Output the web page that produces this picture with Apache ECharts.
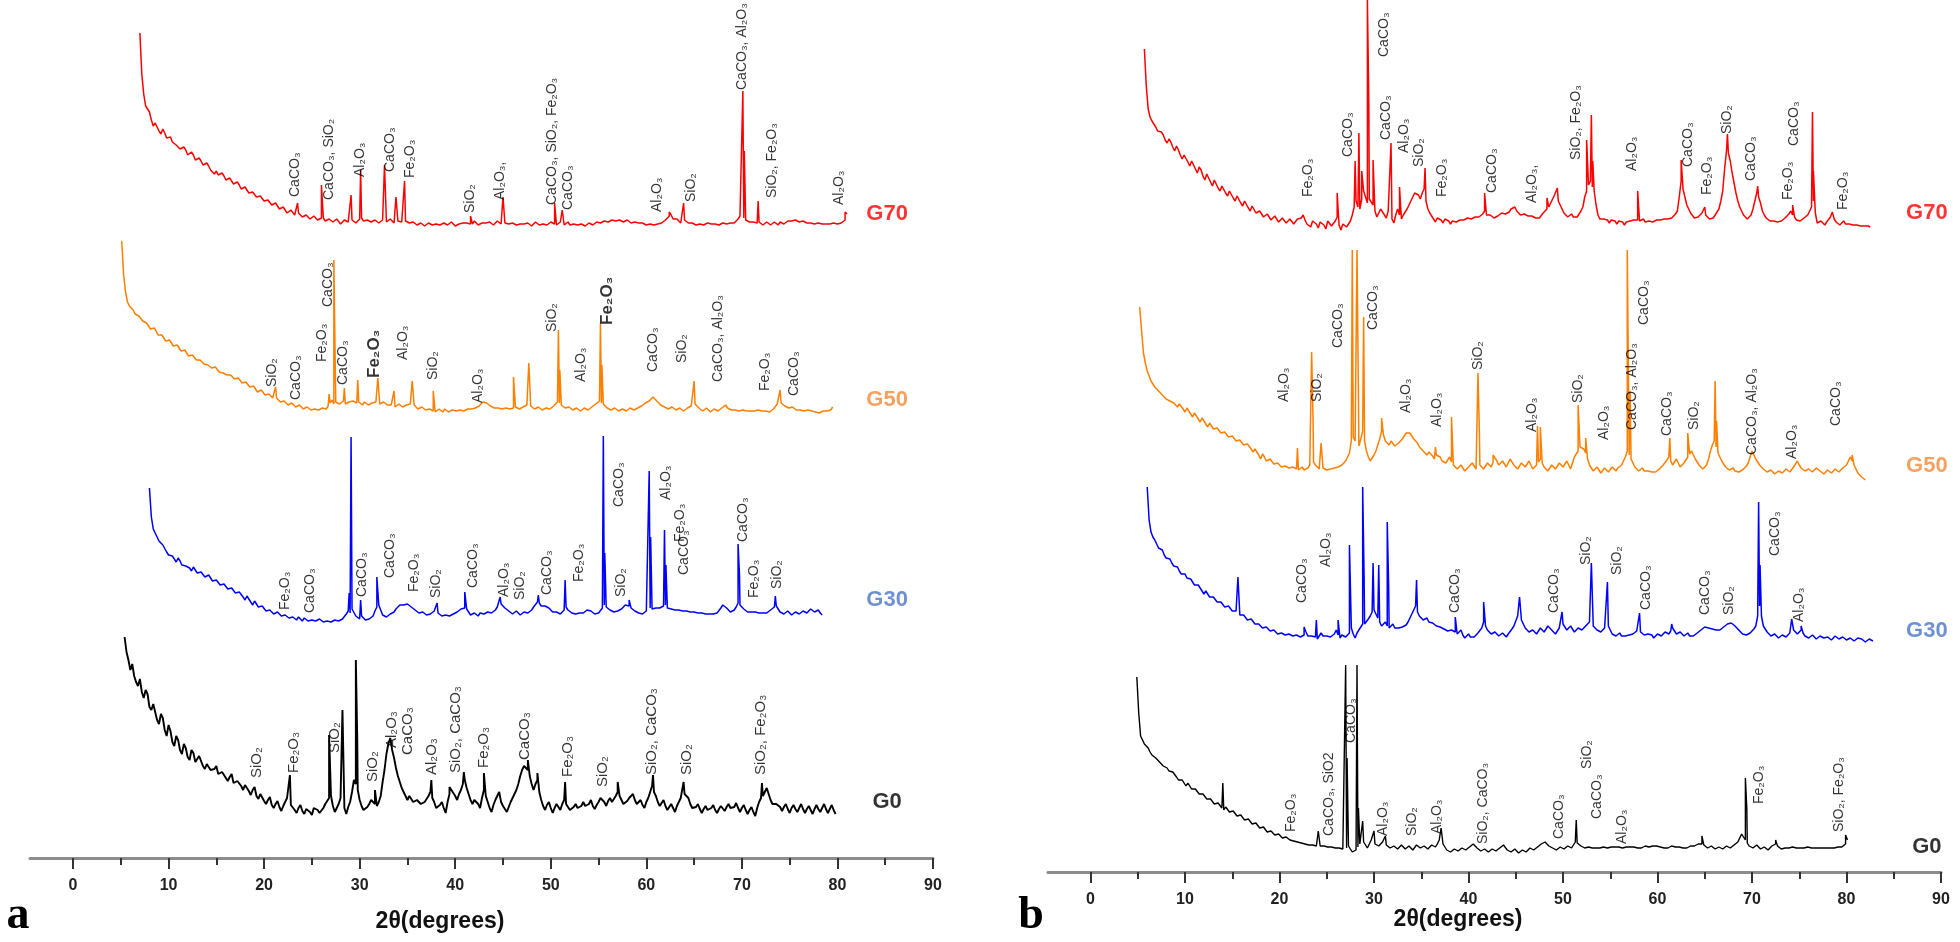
<!DOCTYPE html>
<html>
<head>
<meta charset="utf-8">
<script src="https://cdn.jsdelivr.net/npm/echarts@6/dist/echarts.min.js"></script>
<style>
html,body{margin:0;padding:0;background:#fff;}
#chart{width:1960px;height:942px;}
</style>
</head>
<body>
<div id="chart"></div>
<script>
// ---------------- DATA ----------------
const STEP = 0.4;              // sampling step of the digitised patterns (deg 2θ); "Mid" arrays sit half a step later
const TICKS_MAJOR = [0,10,20,30,40,50,60,70,80,90];
const TICKS_MINOR = [5,15,25,35,45,55,65,75,85];
const sampleNames = ['G70','G50','G30','G0'];

// ----- panel a -----
const a70Start = 7.0;
const a70Vals = [191,130,116,104,101,93,95,86,87,80, 81,73,74,68,69,62,63,57,58,52, 53,47,48,42,44,38,39,33,35,29,
 30,25,27,21,22,17,19,13,15,10, 12,8,10,6,8,4,7,3,6,2, 5,1,4,2,5,1,4,3,6,2, 5,1,4,2,5,1,4,2,5,1,
 4,-1,3,-2,2,-1,2,-3,1,-2, 2,-2,1,-3,2,-1,3,0,2,-2, 2,-1,3,0,2,-1,3,-1,2,-2, 1,-2,2,-1,1,-2,2,0,3,-1,
 2,-1,2,-2,1,-2,1,-1,2,-1, 3,0,4,1,5,2,5,2,4,0, 3,-1,2,-2,1,-2,2,0,6,9, 3,4,2,3,-1,2,-2,1,-2,2,
 -1,1,-2,2,-1,2,3,8,6,3, 1,3,2,-1,2,-1,2,-1,3,1, 4,2,5,1,3,0,2,-1,2,-2, 1,-1,2,-1,1,10];
const a70Mid = [150,118,112,98,100,90,91,84,82,79, 75,77,69,72,64,66,59,61,54,50, 49,51,44,46,40,42,35,37,31,32,
 27,28,23,24,19,21,15,17,11,14, 9,11,7,9,5,8,4,6,3,5, 2,5,0,4,2,4,1,5,3,4, 2,4,1,4,2,5,1,3,2,3,
 1,2,-1,1,-2,1,-1,0,-1,1, -1,2,-2,0,1,1,0,3,-1,1, 1,2,-1,3,0,1,0,1,-1,0, 0,1,-2,2,-1,0,-1,2,0,1,
 0,1,-1,0,-1,0,-2,1,-1,2, 1,3,2,4,3,4,2,4,1,2, 1,1,-1,0,-1,0,1,4,8,5, 5,1,4,1,1,-1,0,-1,1,0,
 0,-1,1,0,1,1,5,10,4,2, 2,1,0,1,0,1,0,2,0,3, 3,4,2,3,1,1,0,1,0,0, 0,1,0,1,4];
const a70Peaks = [[23.5,21],[26.0,39],[29.1,29],[30.1,54],[32.6,59],[33.8,27],[34.7,43],[41.6,8],[45.0,27],
 [50.4,21],[51.2,14],[62.4,12],[63.9,21],[70.1,133],[70.25,73],[71.7,23],[80.8,12]];
const a70Labels = [[23.2,27,'CaCO₃'],[26.8,24,'CaCO₃, SiO₂'],[30.1,47,'Al₂O₃'],[33.2,52,'CaCO₃'],[35.3,46,'Fe₂O₃'],
 [41.6,11,'SiO₂'],[44.7,24,'Al₂O₃,'],[50.1,19,'CaCO₃, SiO₂, Fe₂O₃'],[51.8,14,'CaCO₃'],[61.1,12,'Al₂O₃'],
 [64.7,22,'SiO₂'],[70.0,134,'CaCO₃, Al₂O₃'],[73.2,26,'SiO₂, Fe₂O₃'],[80.2,19,'Al₂O₃']];

const a50Start = 5.1;
const a50Vals = [169,118,104,100,95,92,88,84,81,79, 73,74,67,68,62,63,57,58,52,54, 48,49,44,46,40,41,36,38,33,34,
 29,31,25,27,21,22,17,19,13,14, 10,11,6,8,4,6,2,4,0,3, -1,2,-1,3,4,10,8,6,9,5, 7,10,8,5,7,4,6,9,5,7,
 4,6,3,5,2,4,8,3,0,2, -1,2,-2,1,-2,0,-3,1,-2,1, -1,2,0,3,6,9,5,3,1,3, 0,2,0,3,1,3,5,4,1,3,
 0,2,1,4,8,5,2,3,0,2, -1,2,0,3,6,9,6,2,0,2, -1,1,-1,2,0,2,4,7,9,13, 9,5,3,1,3,0,2,-1,2,4,
 6,2,-1,2,-2,1,-1,2,5,1, -1,2,-2,1,-3,0,-2,1,-3,0, -1,3,8,6,3,1,2,-1,1,-2, 0,-3,-1,-2,0,-2,3];
const a50Mid = [135,108,103,96,94,89,87,81,82,75, 75,69,70,64,65,59,60,54,55,50, 50,46,45,42,43,38,37,35,35,31,
 32,27,28,23,24,18,20,15,16,12, 12,8,9,5,7,3,5,1,3,0, 1,0,2,1,7,6,9,7,6,8, 9,7,6,8,5,7,8,6,8,5,
 5,3,6,3,5,6,5,1,3,0, 1,-1,0,-1,1,-2,0,-1,0,-1, 1,1,2,4,8,7,4,2,2,1, 2,1,2,2,2,4,6,2,2,1,
 1,0,3,6,7,3,4,1,1,0, 1,0,2,4,8,7,4,1,1,0, 0,0,1,0,1,3,6,8,11,11, 7,4,2,2,1,1,0,1,3,5,
 4,0,1,0,0,-1,1,3,2,0, 0,-1,0,-1,-1,-1,0,-1,-1,-2, 1,6,7,4,2,3,0,0,-1,0, -1,-2,-3,-1,-1,0];
const a50Peaks = [[21.2,23],[23.1,8],[26.8,16],[27.3,150],[27.45,40],[28.4,22],[29.8,30],[31.9,32],[33.6,19],
 [35.5,29],[37.7,19],[46.1,33],[47.7,47],[50.8,80],[50.95,40],[55.2,87],[55.35,45],[65.0,29],[74.0,20]];
const a50Labels = [[20.8,23,'SiO₂'],[23.3,10,'CaCO₃'],[26.1,48,'Fe₂O₃'],[26.7,103,'CaCO₃'],[28.3,25,'CaCO₃'],
 [34.6,50,'Al₂O₃'],[37.7,30,'SiO₂'],[42.4,7,'Al₂O₃'],[50.1,78,'SiO₂'],[53.2,28,'Al₂O₃'],[60.7,38,'CaCO₃'],
 [63.7,47,'SiO₂'],[67.5,28,'CaCO₃, Al₂O₃'],[72.4,19,'Fe₂O₃'],[75.5,14,'CaCO₃']];
const a50LabelsBold = [[31.5,32,'Fe₂O₃'],[55.9,85,'Fe₂O₃']];

const a30Start = 8.0;
const a30Vals = [125,84,76,70,66,58,57,51,52,46, 48,42,44,38,40,34,36,30,31,26, 27,22,23,18,19,13,14,8,9,4,
 5,0,2,-3,-1,-5,-3,-7,-5,-4, -8,-6,-9,-6,-9,-7,-10,-7,-9,-6, -8,-4,2,4,-3,-6,-2,-9,-5,2, 8,-2,-4,-1,1,6,10,7,8,4,
 2,-1,1,-3,0,3,-2,-4,-1,-3, 0,2,6,4,-2,0,-3,1,-1,2, 0,6,9,5,2,-1,2,-2,1,0, 3,8,10,5,8,3,0,2,0,6,
 1,-2,1,-2,2,4,0,-2,2,8, 4,2,0,3,6,9,5,2,0,-1, 2,5,3,4,6,8,3,5,2,4, 1,3,0,2,-1,1,-2,0,-2,2,
 8,5,1,3,10,6,2,0,3,-1, 2,-1,1,4,7,1,-1,2,-2,1, -1,2,0,4,1,3,-2];
const a30Mid = [96,80,72,68,61,59,54,55,48,47, 45,46,40,41,36,38,32,33,28,29, 24,25,20,21,16,17,11,12,6,7,
 2,3,-1,1,-3,-2,-5,-4,-7,-6, -5,-8,-7,-8,-6,-9,-8,-9,-7,-8, -6,-1,0,3,-5,-3,-7,-6,-3,6, 3,-4,-2,0,4,8,8,9,6,3,
 0,1,-2,-1,2,0,-3,-2,-3,-1, 1,4,5,1,-1,-2,0,-1,1,0, 3,8,7,3,0,1,0,-1,-1,2, 6,11,7,7,5,1,1,-1,3,3,
 0,-1,0,0,3,2,-1,0,5,6, 3,1,2,4,8,7,3,1,1,0, 4,4,5,5,7,5,4,3,3,2, 2,1,1,0,0,-1,-1,-1,0,5,
 7,3,2,6,8,4,1,1,1,0, 0,0,3,6,4,0,1,0,0,0, 1,1,2,2,2,0];
const a30Peaks = [[28.9,20],[29.1,176],[30.1,13],[31.8,36],[38.1,10],[41.0,21],[44.7,16],[48.7,18],[51.5,33],
 [55.5,177],[55.65,60],[58.2,13],[60.3,142],[60.45,76],[61.9,83],[62.05,48],[69.6,69],[69.75,38],[73.5,17]];
const a30Labels = [[22.2,3,'Fe₂O₃'],[24.8,0,'CaCO₃'],[30.3,16,'CaCO₃'],[33.2,35,'CaCO₃'],[35.7,21,'Fe₂O₃'],
 [38.0,15,'SiO₂'],[41.9,25,'CaCO₃'],[45.1,16,'Al₂O₃'],[46.8,13,'SiO₂'],[49.6,18,'CaCO₃'],[53.0,31,'Fe₂O₃'],
 [57.2,106,'CaCO₃'],[57.4,16,'SiO₂'],[62.1,113,'Al₂O₃'],[63.5,71,'Fe₂O₃'],[64.0,38,'CaCO₃'],[70.1,71,'CaCO₃'],
 [71.3,15,'Fe₂O₃'],[73.7,24,'SiO₂']];

const a0Start = 5.4;
const a0Vals = [173,150,146,128,131,112,116,100,104,86, 92,74,79,64,70,56,62,50,57,46, 52,41,48,38,44,34,40,29,36,25,
 31,20,27,15,23,11,18,6,13,2, 9,-1,6,10,3,-3,5,-4,3,-5, 4,-3,2,8,14,-2,6,10,-4,8, 30,20,4,-2,6,12,4,14,40,66,
 60,42,28,18,10,16,6,12,4,10, 18,8,0,8,-3,16,22,10,20,30, 16,6,12,2,20,8,-2,10,18,4, -2,8,14,26,40,46,34,20,30,10,
 0,8,-3,6,0,10,4,-2,6,0, 8,2,10,1,8,14,4,12,6,18, 10,4,12,16,6,10,2,12,24,14, 4,10,0,6,-2,8,14,18,6,0,
 6,-3,4,-2,5,-3,4,-1,6,0, 7,-2,5,-4,3,-6,8,14,22,10, 4,8,-1,6,-3,5,-2,6,-3,4, -4,5,-2,6,-3,5,-4];
const a0Mid = [158,140,134,124,118,120,103,106,90,96, 80,85,68,74,60,66,53,60,48,54, 44,46,40,41,36,38,32,33,27,29,
 24,25,19,20,14,16,9,10,5,6, 3,4,12,5,0,2,-1,1,-2,2, 0,-1,6,12,4,2,12,2,3,18, 26,10,0,3,10,6,8,28,56,72,
 52,34,22,14,14,8,10,6,8,14, 12,2,5,2,8,20,14,16,26,22, 10,10,6,12,14,2,5,14,8,1, 3,12,20,34,44,40,26,26,18,4,
 5,2,2,3,6,6,0,3,2,4, 4,6,4,5,12,8,9,8,14,14, 6,9,14,10,8,5,8,18,18,8, 7,4,3,2,4,12,16,12,2,3,
 1,1,0,2,0,1,2,3,2,3, 2,2,0,0,-2,2,12,18,16,6, 6,3,3,1,2,1,2,1,1,0, 1,1,2,1,1,0];
const a0Peaks = [[22.7,35],[26.8,75],[28.2,100],[29.6,150],[29.75,70],[31.6,20],[37.5,30],[39.4,23],[40.9,38],
 [43.0,37],[47.6,50],[48.6,37],[51.5,28],[57.0,28],[60.7,35],[63.9,28],[72.1,27]];
const a0Labels = [[19.2,32,'SiO₂'],[23.1,37,'Fe₂O₃'],[27.4,57,'SiO₂'],[31.4,28,'SiO₂'],[33.4,62,'Al₂O₃'],
 [35.0,55,'CaCO₃'],[37.6,35,'Al₂O₃'],[40.1,37,'SiO₂, CaCO₃'],[43.0,42,'Fe₂O₃'],[47.3,50,'CaCO₃'],
 [51.8,33,'Fe₂O₃'],[55.4,23,'SiO₂'],[60.6,35,'SiO₂, CaCO₃'],[64.2,35,'SiO₂'],[72.0,35,'SiO₂, Fe₂O₃']];

// ----- panel b -----
const b70Start = 5.7;
const b70Vals = [172,112,100,94,88,86,78,79,70,71, 62,64,55,58,48,51,41,45,35,39, 30,33,25,28,20,23,15,18,10,13,
 6,9,2,6,-1,4,-3,2,-4,1, -5,0,6,-3,-6,2,-7,0,-8,1, -6,4,-9,-2,-8,6,20,12,30,18, 24,10,6,14,3,8,-2,12,2,8,
 14,24,30,22,32,12,6,-1,5,-2, 4,-3,2,-2,3,0,5,1,6,3, 10,4,7,2,6,10,5,12,14,8, 4,9,3,6,1,5,10,14,22,28,
 16,8,4,7,2,5,14,30,40,30, 6,0,4,-2,3,-3,2,-4,1,-2, 3,0,2,-3,1,-2,3,0,4,1, 5,10,40,24,12,6,2,5,10,4,
 1,6,12,30,70,60,38,20,10,4, 1,12,28,18,6,2,-2,1,-3,2, 4,10,4,-1,2,4,8,20,-2,0, -4,1,6,-1,-4,0,-5,-2,-6,-3,
 -7,-4,-6];
const b70Mid = [135,104,97,90,89,81,82,74,75,66, 66,59,60,52,54,45,47,39,41,33, 35,28,30,23,25,18,20,13,15,8,
 10,4,7,1,5,-1,3,-2,2,-3, 2,3,1,-4,0,-3,-1,-4,0,-5, 0,-4,-3,-6,0,14,14,22,24,22, 16,4,12,6,10,2,6,6,6,12,
 20,28,26,28,20,8,2,3,1,2, 0,0,-1,1,1,3,2,4,4,7, 6,6,3,5,8,7,9,13,10,6, 7,5,5,3,3,8,12,18,26,20,
 12,6,6,4,4,10,24,36,34,16, 2,2,1,1,0,0,-1,-1,0,1, 1,1,-1,0,-1,1,1,2,2,3, 7,24,32,16,8,3,4,8,6,2,
 3,9,20,52,68,48,28,14,6,2, 6,20,24,10,3,0,0,-1,0,3, 7,6,1,0,3,6,14,8,-1,-2, -1,4,2,-3,-2,-3,-3,-4,-4,-5,
 -5,-5];
const b70Peaks = [[26.1,28],[28.0,60],[28.4,88],[28.7,50],[29.3,221],[29.45,120],[29.9,61],[31.8,78],[32.7,34],
 [35.4,53],[41.7,28],[48.3,23],[49.4,33],[52.5,81],[53.0,106],[53.15,60],[57.9,30],[62.5,61],[62.65,40],[65.0,14],
 [67.4,87],[70.6,35],[74.3,16],[76.4,109],[76.5,50],[78.5,9]];
const b70Labels = [[23.0,24,'Fe₂O₃'],[27.3,64,'CaCO₃'],[31.1,164,'CaCO₃'],[31.3,81,'CaCO₃'],[33.2,68,'Al₂O₃'],
 [34.8,54,'SiO₂'],[37.2,24,'Fe₂O₃'],[42.5,28,'CaCO₃'],[46.7,18,'Al₂O₃,'],[51.4,61,'SiO₂, Fe₂O₃'],[57.3,50,'Al₂O₃'],
 [63.2,54,'CaCO₃'],[65.3,26,'Fe₂O₃'],[67.4,87,'SiO₂'],[69.9,40,'CaCO₃'],[73.8,21,'Fe₂O₃'],[74.5,75,'CaCO₃'],
 [79.6,11,'Fe₂O₃']];

const b50Start = 5.2;
const b50Vals = [164,118,100,90,84,80,76,72,70,68, 64,66,59,60,54,56,49,50,44,46, 40,41,36,37,32,33,28,29,24,25,
 19,21,12,14,8,10,5,7,3,6, 2,5,1,4,0,6,9,4,1,3, 0,4,2,5,8,12,30,30,25,40, 20,10,16,22,40,30,26,28,24,30,
 34,40,36,30,24,20,16,20,12,18, 10,8,14,6,2,6,0,4,8,2, 6,2,8,4,14,6,10,4,12,6, 2,8,4,10,2,6,12,4,0,6,
 2,8,4,10,2,14,20,26,18,6, 0,4,-2,3,-1,4,0,5,8,20, 12,4,0,3,-2,2,-3,1,4,8, 14,6,12,4,8,14,20,12,6,2,
 6,20,30,18,10,4,1,3,-2,0, 3,8,20,12,6,2,-1,1,-3,0, -2,2,-1,4,10,3,0,2,-1,3, 0,-3,1,-2,2,-1,3,6,14,6,
 -2,-6,-9];
const b50Mid = [141,108,95,87,82,78,74,71,69,66, 67,62,63,57,58,52,53,47,48,42, 43,38,39,34,35,30,31,26,27,22,
 22,16,17,10,12,7,8,4,5,3, 4,2,3,1,3,8,6,2,3,1, 2,3,4,6,10,18,34,28,32,30, 14,12,20,32,36,28,30,25,28,32,
 38,38,32,28,22,18,19,15,16,14, 9,11,9,4,4,3,2,6,5,4, 4,5,6,9,10,8,7,8,9,4, 5,6,7,6,4,9,8,2,3,4,
 5,6,7,6,8,17,24,22,12,3, 2,1,0,1,1,2,3,6,14,16, 8,2,1,0,0,-1,-1,2,6,11, 10,9,8,6,11,17,16,9,4,4,
 12,26,24,14,7,2,2,0,-1,1, 5,14,16,9,4,0,0,-1,-1,-1, 0,0,1,7,6,1,1,0,1,1, -1,-1,0,0,0,1,4,10,10,2,
 -4,-7];
const b50Peaks = [[21.9,23],[23.4,119],[23.55,50],[24.4,28],[27.7,221],[28.2,221],[28.9,154],[30.8,53],[36.5,24],
 [38.2,54],[41.0,98],[41.15,40],[42.6,16],[47.3,45],[47.6,44],[51.6,66],[52.4,33],[56.8,221],[56.95,221],[57.1,80],
 [61.3,33],[63.2,38],[66.1,90],[66.25,50],[74.8,12],[80.6,16]];
const b50Labels = [[20.5,69,'Al₂O₃'],[24.0,69,'SiO₂'],[26.2,123,'CaCO₃'],[29.9,141,'CaCO₃'],[33.4,58,'Al₂O₃'],
 [36.7,44,'Al₂O₃'],[41.0,101,'SiO₂'],[46.7,39,'Al₂O₃'],[51.6,68,'SiO₂'],[54.4,31,'Al₂O₃'],[57.3,41,'CaCO₃, Al₂O₃'],
 [58.6,146,'CaCO₃'],[61.0,35,'CaCO₃'],[63.9,41,'SiO₂'],[70.0,16,'CaCO₃, Al₂O₃'],[74.3,12,'Al₂O₃'],[78.9,45,'CaCO₃']];

const b30Start = 6.0;
const b30Vals = [149,104,96,88,86,78,77,70,69,62, 62,56,55,49,49,42,42,37,37,32, 32,28,28,23,24,19,20,14,15,10,
 11,6,8,3,5,1,4,-1,3,-2, 2,-3,4,-2,2,-3,3,-2,1,-3, 6,-2,2,-3,8,-2,6,12,14,20, 26,18,10,14,8,12,6,10,8,14,
 22,30,20,16,18,12,14,8,10,6, 4,8,2,6,-2,2,-3,1,4,14, 6,2,4,0,3,-1,4,10,20,16, 8,4,6,2,8,4,10,6,2,8,
 12,6,10,4,8,6,10,14,10,6, 4,8,10,2,0,3,-2,2,-1,4, 6,2,0,4,-2,2,0,4,2,8, 2,4,0,3,-2,2,4,8,10,6,
 8,4,8,10,14,12,8,4,0,2, 4,10,30,10,4,0,2,-2,1,-1, 3,6,2,6,0,-2,1,-3,0,-2, -1,-4,0,-3,-1,-4,-2,-5,-2,-3,
 -6,-3,-5];
const b30Mid = [116,99,92,87,81,79,73,71,65,64, 58,57,51,51,45,45,39,39,34,34, 29,30,25,25,21,21,16,17,12,12,
 8,9,5,6,2,3,1,2,0,1, -1,1,0,0,-1,0,0,0,-1,2, 1,1,-1,3,2,3,9,12,17,24, 22,14,12,10,10,8,8,9,11,18,
 26,24,18,18,14,13,10,9,7,5, 6,4,4,1,0,-1,-1,3,8,10, 4,3,2,2,1,2,7,15,18,12, 6,5,4,5,6,7,8,4,5,10,
 9,8,7,6,7,8,12,12,8,5, 6,9,6,1,2,0,0,1,2,5, 4,1,2,1,0,1,2,3,5,5, 3,2,2,0,0,3,6,9,8,7,
 6,6,9,12,13,10,6,2,1,3, 7,20,20,7,2,1,0,0,0,1, 4,4,4,3,-1,0,-1,-1,-1,-2, -2,-2,-2,-2,-2,-3,-3,-3,-3,-4,
 -4,-4];
const b30Peaks = [[15.6,59],[22.6,9],[23.9,16],[26.2,16],[27.4,91],[28.8,149],[28.95,60],[29.9,73],[30.5,71],
 [31.4,114],[31.55,50],[34.5,56],[38.6,19],[41.6,34],[45.4,39],[49.9,24],[53.0,73],[54.7,54],[58.1,23],[61.5,12],
 [70.7,134],[70.85,71],[74.2,17],[75.2,10]];
const b30Labels = [[22.4,33,'CaCO₃'],[24.9,69,'Al₂O₃'],[38.6,23,'CaCO₃'],[49.1,23,'CaCO₃'],[52.4,71,'SiO₂'],
 [55.7,61,'SiO₂'],[58.8,26,'CaCO₃'],[65.0,21,'CaCO₃'],[67.6,21,'SiO₂'],[72.4,80,'CaCO₃'],[75.0,14,'Al₂O₃']];

const b0Start = 4.9;
const b0Vals = [171,112,104,100,93,90,86,82,80,75, 74,68,68,62,62,57,57,52,52,47, 47,42,43,38,39,34,35,30,31,26,
 27,22,23,18,19,14,16,11,13,8, 10,6,8,4,6,2,5,1,4,0, 3,-1,2,-2,1,-3,2,-4,-2,4, 6,0,8,4,2,6,3,0,2,-1,
 3,-1,2,-2,3,0,2,-1,3,1, 8,4,-2,-4,-1,-3,0,-2,1,4, 0,-3,-1,-4,-1,-3,0,3,-2,-4, -1,-5,-2,-4,0,-2,1,4,6,2,
 0,-2,1,-1,2,0,6,4,1,-1, 2,-2,1,-1,2,-1,3,0,2,-1, 3,0,2,-1,1,3,0,4,0,2, -1,1,3,0,2,-1,1,3,2,6,
 3,0,2,-1,1,-1,2,0,3,6, 14,8,2,0,3,-1,1,-2,2,4, 0,-2,1,-1,2,-2,1,-1,2,-2, 1,-1,2,-2,1,-1,2,0,8];
const b0Mid = [135,108,102,96,92,88,84,81,77,76, 71,70,65,65,59,59,54,54,49,49, 44,45,40,41,36,37,32,33,28,29,
 24,25,20,21,16,17,13,14,10,11, 8,7,6,5,4,3,3,2,2,2, 1,1,0,0,-1,0,-1,-3,1,5, 3,4,6,3,4,4,1,1,0,1,
 1,0,0,0,1,1,0,1,2,4, 6,1,-3,-2,-2,-1,-1,-1,2,2, -1,-2,-2,-2,-2,-1,1,1,-3,-2, -3,-3,-3,-2,-1,-1,2,5,4,1,
 -1,0,0,1,1,3,5,2,0,1, 0,0,0,1,0,1,1,1,0,1, 1,1,0,0,2,1,2,2,1,0, 0,2,1,1,0,0,2,2,4,4,
 1,1,0,0,0,1,1,1,4,10, 11,5,1,1,1,0,-1,0,3,2, -1,0,0,1,0,0,0,1,0,0, 0,0,0,0,0,1,1,4];
const b0Peaks = [[14.0,65],[24.1,17],[27.0,183],[27.15,90],[28.2,183],[28.35,40],[28.8,27],[30.0,17],[31.2,12],
 [37.1,20],[51.4,28],[64.7,12],[69.3,70],[69.45,40],[72.5,8],[79.9,13]];
const b0Labels = [[21.2,16,'Fe₂O₃'],[25.2,12,'CaCO₃, SiO2'],[27.6,105,'CaCO₃'],[31.0,12,'Al₂O₃'],[34.0,12,'SiO₂'],
 [36.7,14,'Al₂O₃'],[41.5,4,'SiO₂, CaCO₃'],[49.6,9,'CaCO₃'],[52.6,79,'SiO₂'],[53.6,29,'CaCO₃'],[56.3,4,'Al₂O₃'],
 [70.8,44,'Fe₂O₃'],[79.2,16,'SiO₂, Fe₂O₃']];

// vertical stacking offsets of the four patterns (same units as intensities)
const offsetsA = [634, 448, 245, 48];
const offsetsB = [651, 401, 236, 24];
const nameLabelPosA = 85.2, nameLabelPosB = 88.5;
const nameLabelLiftA = [10, 10, 13, 8];
const nameLabelLiftB = [8, 5, 5, 1];

// ---------------- STYLE / LAYOUT ----------------
const lineColors = ['#ff0000', '#ff7f00', '#0000ff', '#000000'];
const nameColors = ['#ff0000', '#f5893a', '#4a76c6', '#000000'];
const lineWidthsA = [1.5, 1.5, 1.5, 1.9];
const lineWidthsB = [1.5, 1.5, 1.5, 1.4];
const SANS = "'Liberation Sans', Arial, sans-serif";
const NARROW = "'Liberation Sans Narrow', 'Liberation Sans', Arial, sans-serif";

function buildLine(start, vals, mids, peaks, offset) {
  const pts = vals.map((v, i) => [Math.round((start + i * STEP) * 100) / 100, v]);
  mids.forEach((v, i) => pts.push([Math.round((start + STEP / 2 + i * STEP) * 100) / 100, v]));
  peaks.forEach(p => pts.push([p[0], p[1]]));
  pts.sort((a, b) => a[0] - b[0]);
  return pts.map(p => [p[0], p[1] + offset]);
}
function labelItems(list, offset) {
  return list.map(l => ({ value: [l[0], l[1] + offset], name: l[2] }));
}

const chart = echarts.init(document.getElementById('chart'), null, { renderer: 'canvas' });

function xMajor(gi) {
  return {
    type: 'value', gridIndex: gi, min: -4.5, max: 90, position: 'bottom',
    axisLine: { show: true, onZero: false, lineStyle: { color: '#8c8c8c', width: 3 } },
    axisTick: { show: true, customValues: TICKS_MAJOR, length: 11, lineStyle: { color: '#333', width: 2 } },
    axisLabel: { show: true, customValues: TICKS_MAJOR, fontSize: 16, fontWeight: 'bold', color: '#222',
      fontFamily: SANS, margin: 20 },
    splitLine: { show: false }
  };
}
function xMinor(gi) {
  return {
    type: 'value', gridIndex: gi, min: -4.5, max: 90, position: 'bottom',
    axisLine: { show: false, onZero: false },
    axisTick: { show: true, customValues: TICKS_MINOR, length: 7, lineStyle: { color: '#333', width: 2 } },
    axisLabel: { show: false }, splitLine: { show: false }
  };
}
function yHidden(gi, max) {
  return { type: 'value', gridIndex: gi, min: 0, max: max, show: false, splitLine: { show: false } };
}

const series = [];
const panels = [
  { xi: 0, yi: 0, offs: offsetsA, pos: nameLabelPosA, lift: nameLabelLiftA, fs: [14, 14, 14, 15], lw: lineWidthsA,
    traces: [[a70Start, a70Vals, a70Mid, a70Peaks, a70Labels], [a50Start, a50Vals, a50Mid, a50Peaks, a50Labels],
             [a30Start, a30Vals, a30Mid, a30Peaks, a30Labels], [a0Start, a0Vals, a0Mid, a0Peaks, a0Labels]] },
  { xi: 1, yi: 1, offs: offsetsB, pos: nameLabelPosB, lift: nameLabelLiftB, fs: [14, 14, 14, 14], lw: lineWidthsB,
    traces: [[b70Start, b70Vals, b70Mid, b70Peaks, b70Labels], [b50Start, b50Vals, b50Mid, b50Peaks, b50Labels],
             [b30Start, b30Vals, b30Mid, b30Peaks, b30Labels], [b0Start, b0Vals, b0Mid, b0Peaks, b0Labels]] }
];

function peakLabelSeries(xi, yi, items, fs, bold) {
  return {
    type: 'scatter', xAxisIndex: xi, yAxisIndex: yi, symbolSize: 0, silent: true, z: 5, data: items,
    label: { show: true, position: [0, 0], rotate: 90, align: 'left', verticalAlign: 'middle',
      formatter: p => p.name, fontSize: bold ? 17 : fs, fontWeight: bold ? 'bold' : 'normal',
      color: '#000', fontFamily: NARROW }
  };
}

panels.forEach(pn => {
  pn.traces.forEach((t, k) => {
    series.push({
      type: 'line', xAxisIndex: pn.xi, yAxisIndex: pn.yi, showSymbol: false, symbol: 'none',
      lineStyle: { color: lineColors[k], width: pn.lw[k] }, z: 2, clip: false,
      data: buildLine(t[0], t[1], t[2], t[3], pn.offs[k])
    });
    series.push(peakLabelSeries(pn.xi, pn.yi, labelItems(t[4], pn.offs[k]), pn.fs[k], false));
  });
  series.push({
    type: 'scatter', xAxisIndex: pn.xi, yAxisIndex: pn.yi, symbolSize: 0, silent: true, z: 6,
    data: sampleNames.map((n, k) => ({ value: [pn.pos, pn.offs[k] + pn.lift[k]], name: n,
      label: { color: nameColors[k] } })),
    label: { show: true, position: [0, 0], align: 'center', verticalAlign: 'middle', formatter: p => p.name,
      fontSize: 22, fontWeight: 'bold', fontFamily: SANS }
  });
});
series.push(peakLabelSeries(0, 0, labelItems(a50LabelsBold, offsetsA[1]), 14, true));

const titleFont = "bold 23px 'Liberation Sans', Arial, sans-serif";
chart.setOption({
  animation: false,
  backgroundColor: '#ffffff',
  grid: [
    { left: 30, top: 0, width: 903, height: 858 },
    { left: 1048, top: 0, width: 893, height: 872 }
  ],
  xAxis: [xMajor(0), xMajor(1), xMinor(0), xMinor(1)],
  yAxis: [yHidden(0, 858), yHidden(1, 872)],
  graphic: [
    { type: 'text', x: 440, y: 922, style: { text: '2θ(degrees)', font: titleFont, fill: '#111',
        align: 'center', verticalAlign: 'middle', textAlign: 'center', textVerticalAlign: 'middle' } },
    { type: 'text', x: 1458, y: 920, style: { text: '2θ(degrees)', font: titleFont, fill: '#111',
        align: 'center', verticalAlign: 'middle', textAlign: 'center', textVerticalAlign: 'middle' } },
    { type: 'text', x: 18, y: 916, style: { text: 'a', font: "bold 46px 'Liberation Serif', serif", fill: '#000',
        align: 'center', verticalAlign: 'middle', textAlign: 'center', textVerticalAlign: 'middle' } },
    { type: 'text', x: 1031, y: 916, style: { text: 'b', font: "bold 46px 'Liberation Serif', serif", fill: '#000',
        align: 'center', verticalAlign: 'middle', textAlign: 'center', textVerticalAlign: 'middle' } }
  ],
  series: series
});
</script>
</body>
</html>
